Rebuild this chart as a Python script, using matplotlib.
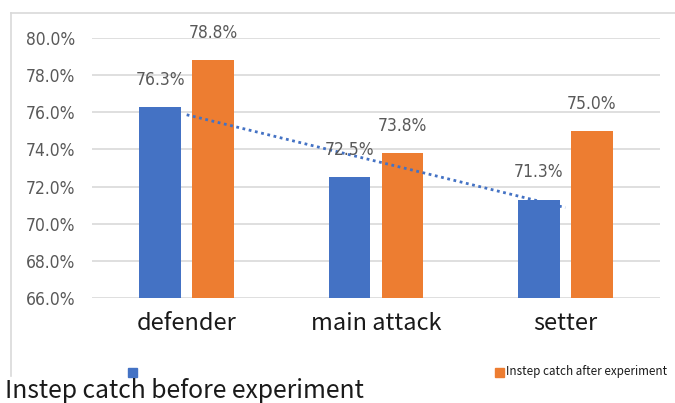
import matplotlib.pyplot as plt
from matplotlib.lines import Line2D
from matplotlib.patches import Rectangle
import numpy as np

positions = ["defender", "main attack", "setter"]
before = [76.3, 72.5, 71.3]
after = [78.8, 73.8, 75.0]
series_names = ["Instep catch before experiment", "Instep catch after experiment"]
y_ticks = [66, 68, 70, 72, 74, 76, 78, 80]

BLUE = "#4472C4"
ORANGE = "#ED7D31"
GRID = "#D9D9D9"
GREY_TXT = "#595959"
NUM_FONT = ["DejaVu Sans"]
CAT_FONT = ["Noto Sans CJK KR", "DejaVu Sans"]

fig = plt.figure(figsize=(6.75, 4.03), dpi=100)
W, H = 675, 403

# light frame around the chart
fig.add_artist(Line2D([11 / W, 1.0], [1 - 13 / H, 1 - 13 / H], color=GRID, lw=1.2))
fig.add_artist(Line2D([11 / W, 11 / W], [1 - 13 / H, 1 - 376 / H], color=GRID, lw=1.2))

ax = fig.add_axes([92 / W, 1 - 298 / H, (660 - 92) / W, (298 - 38) / H])

x = np.arange(len(positions))
bw = 0.22
off = 0.14
b1 = ax.bar(x - off, before, bw, color=BLUE, zorder=3)
b2 = ax.bar(x + off, after, bw, color=ORANGE, zorder=3)

for bars, vals in ((b1, before), (b2, after)):
    for rect, v in zip(bars, vals):
        ax.annotate(f"{v:.1f}%", (rect.get_x() + rect.get_width() / 2, v),
                    xytext=(0, 19.5), textcoords="offset points",
                    ha="center", va="center", fontsize=12.5, fontstretch="condensed",
                    family=NUM_FONT, color=GREY_TXT, zorder=5)

# linear trend of the "before" series
k, b = np.polyfit(x, before, 1)
ax.plot(x, k * x + b, color=BLUE, lw=2, linestyle=(0, (1, 1.3)), zorder=4)

ax.set_xlim(-0.5, 2.5)
ax.set_ylim(66, 80)
ax.set_yticks(y_ticks)
ax.set_yticklabels([f"{t:.1f}%" for t in y_ticks], family=NUM_FONT,
                   fontsize=12.5, fontstretch="condensed", color=GREY_TXT)
ax.set_xticks(x)
ax.set_xticklabels(positions, family=CAT_FONT, fontsize=17, color="#1a1a1a")
ax.tick_params(axis="y", length=0, pad=12)
ax.tick_params(axis="x", length=0, pad=10)
ax.yaxis.grid(True, color=GRID, lw=1.2, zorder=0)
for s in ax.spines.values():
    s.set_visible(False)

# legend
fig.add_artist(Rectangle((128 / W, 1 - 377 / H), 9 / W, 9 / H, color=BLUE,
                         transform=fig.transFigure))
fig.add_artist(Rectangle((495 / W, 1 - 377 / H), 9 / W, 9 / H, color=ORANGE,
                         transform=fig.transFigure))
fig.text(506 / W, 1 - 372 / H, series_names[1], family=CAT_FONT, fontsize=8.4,
         color="#1a1a1a", va="center", ha="left")
fig.text(5 / W, 1 - 391 / H, series_names[0], family=CAT_FONT, fontsize=17.8,
         color="#1a1a1a", va="center", ha="left")

fig.savefig("out.png", dpi=100)
